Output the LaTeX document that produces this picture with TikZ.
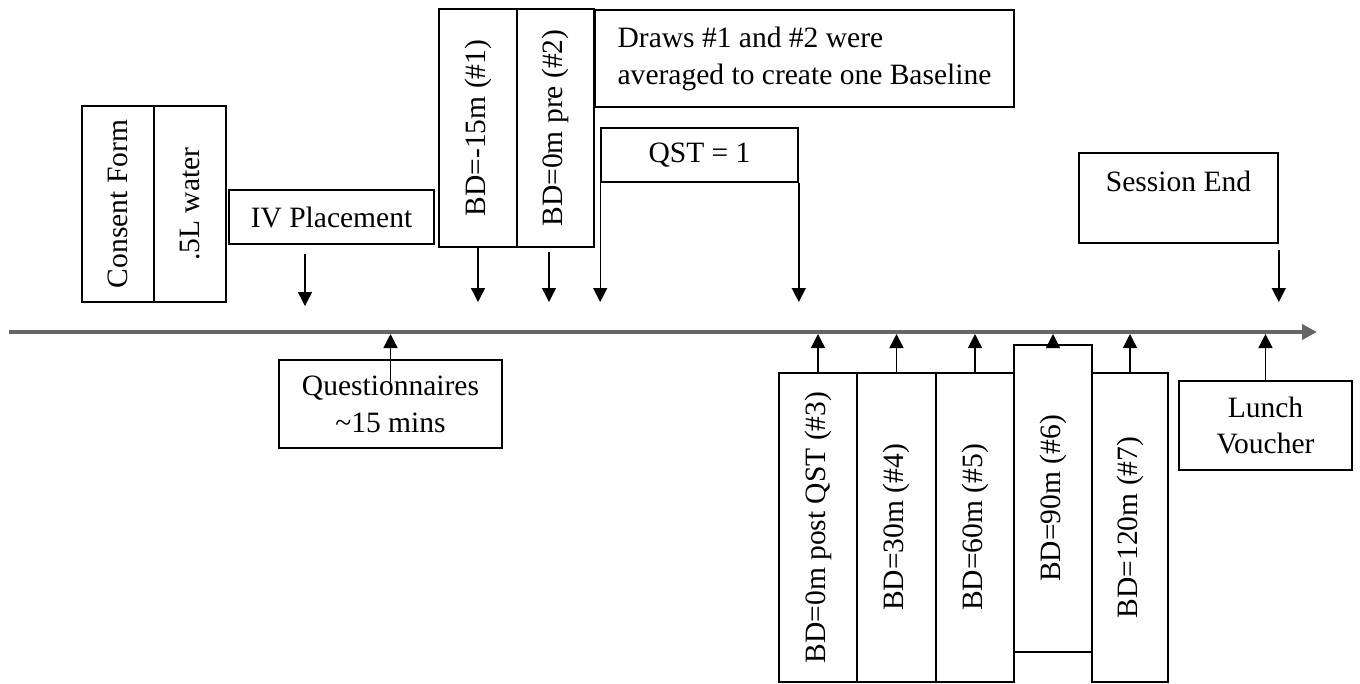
\documentclass[tikz,border=0pt]{standalone}
\usepackage{fontspec}
\setmainfont{Liberation Serif}
\usetikzlibrary{arrows.meta}

\begin{document}
\begin{tikzpicture}[x=0.2mm,y=-0.2mm,>={Triangle[width=2.8mm,length=2.8mm]},
  font=\fontsize{16.8}{21}\selectfont,
  box/.style={draw,line width=0.9pt,inner sep=0pt,align=center},
  tick/.style={->,line width=0.8pt}]
  \useasboundingbox (0,0) rectangle (1360,683);
  % time axis
  \coordinate (start) at (9,332);
  \coordinate (stop) at (1317,332);
  \coordinate (dn) at (0,302);
  \coordinate (up) at (0,334);
  \draw[line width=0.8mm,black!60,-{Triangle[width=3mm,length=3mm]}] (start) -- (stop);

  % above the axis
  \node[box,minimum width=14.4mm,minimum height=39.2mm] (consent) at (118,204) {\rotatebox{90}{Consent Form}};
  \node[box,minimum width=14.4mm,minimum height=39.2mm] (water) at (190,204) {\rotatebox{90}{.5L water}};
  \node[box,minimum width=41mm,minimum height=10.8mm] (iv) at (331.5,217) {IV Placement};
  \node[box,minimum width=15.6mm,minimum height=47.6mm] (bd1) at (478,128) {\rotatebox{90}{BD=-15m (\#1)}};
  \node[box,minimum width=15.4mm,minimum height=47.6mm] (bd2) at (555.5,128) {\rotatebox{90}{BD=0m pre (\#2)}};
  \node[box,minimum width=83.8mm,minimum height=19.4mm,align=left] (note) at (804.5,58.5)
    {Draws \#1 and \#2 were\\averaged to create one Baseline};
  \node[box,minimum width=39.4mm,minimum height=10.8mm] (qst) at (699.5,155) {QST = 1};
  \node[box,minimum width=39.8mm,minimum height=18mm] (session) at (1178.5,198) {Session End\\[-8pt]\strut};

  \coordinate (ivend) at (305,306);
  \draw[tick,shorten <=1.8mm] (iv.south -| ivend) -- (ivend);
  \draw[tick] (bd1.south) -- (bd1.south |- dn);
  \draw[tick,shorten <=0.8mm] ([xshift=-1.3mm]bd2.south) -- ([xshift=-1.3mm]bd2.south |- dn);
  \draw[tick] (qst.north west) -- (qst.north west |- dn);
  \draw[tick] (qst.south east) -- (qst.south east |- dn);
  \draw[tick,shorten <=1.2mm] (session.south east) -- (session.south east |- dn);

  % below the axis
  \node[box,minimum width=44.6mm,minimum height=17.6mm] (quest) at (390.5,404) {Questionnaires\\\textasciitilde15 mins};
  \node[box,minimum width=15.6mm,minimum height=61.8mm] (bd3) at (818,527.5) {\rotatebox{90}{BD=0m post QST (\#3)}};
  \node[box,minimum width=15.8mm,minimum height=61.8mm] (bd4) at (896.5,527.5) {\rotatebox{90}{BD=30m (\#4)}};
  \node[box,minimum width=15.6mm,minimum height=61.8mm] (bd5) at (975,527.5) {\rotatebox{90}{BD=60m (\#5)}};
  \node[box,minimum width=15.6mm,minimum height=61.4mm] (bd6) at (1053,498.5) {\rotatebox{90}{BD=90m (\#6)}};
  \node[box,minimum width=15.2mm,minimum height=61.8mm] (bd7) at (1130,527.5) {\rotatebox{90}{BD=120m (\#7)}};
  \node[box,minimum width=34.6mm,minimum height=17.8mm] (lunch) at (1265.5,425.5) {Lunch\\Voucher};

  \draw[tick] ([yshift=-4.6mm]quest.north) -- (quest.north |- up);
  \foreach \n in {bd3,bd4,bd5,bd6,bd7,lunch}
    \draw[tick] (\n.north) -- (\n.north |- up);
\end{tikzpicture}
\end{document}
